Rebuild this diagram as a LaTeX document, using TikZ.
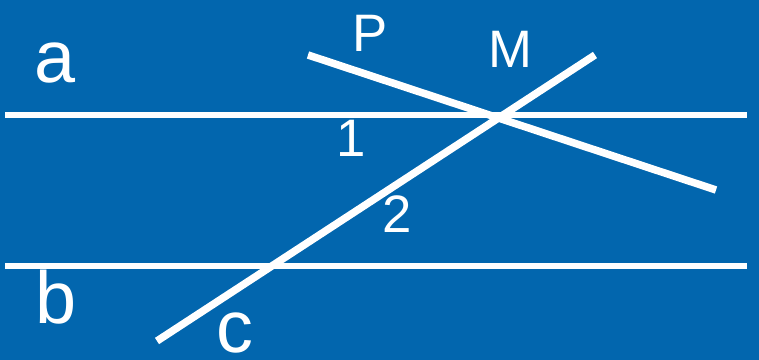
\documentclass[tikz,border=0pt]{standalone}
\usepackage{fontspec}
\setmainfont{Liberation Sans}
\definecolor{bgblue}{RGB}{2,102,174}
\begin{document}
\begin{tikzpicture}[
    line/.style={white, line width=0.12cm},
    cross/.style={white, line width=0.15cm},
    big/.style={white, anchor=base, inner sep=0pt, font=\fontsize{42}{50}\selectfont},
    small/.style={white, anchor=base, inner sep=0pt, font=\fontsize{30}{36}\selectfont}
]
    % Background
    \fill[bgblue] (0,0) rectangle (15.18,7.2);

    % End points
    \coordinate (a1) at (0.1,4.9);
    \coordinate (a2) at (14.94,4.9);
    \coordinate (b1) at (0.1,1.88);
    \coordinate (b2) at (14.94,1.88);
    \coordinate (c1) at (3.14,0.38);
    \coordinate (c2) at (11.9,6.1);
    \coordinate (p1) at (6.16,6.1);
    \coordinate (p2) at (14.32,3.4);

    % Parallel lines a and b
    \draw[line] (a1) -- (a2);
    \draw[line] (b1) -- (b2);

    % Secant c and line P
    \draw[cross] (c1) -- (c2);
    \draw[cross] (p1) -- (p2);

    % Labels
    \node[big] (la) at (1.1,5.54) {a};
    \node[big] (lb) at (1.12,0.72) {b};
    \node[big] (lc) at (4.7,0.14) {c};
    \node[small] (lp) at (7.4,6.16) {P};
    \node[small] (lm) at (10.2,5.84) {M};
    \node[small] (l1) at (7.02,4.06) {1};
    \node[small] (l2) at (7.94,2.54) {2};
\end{tikzpicture}
\end{document}
